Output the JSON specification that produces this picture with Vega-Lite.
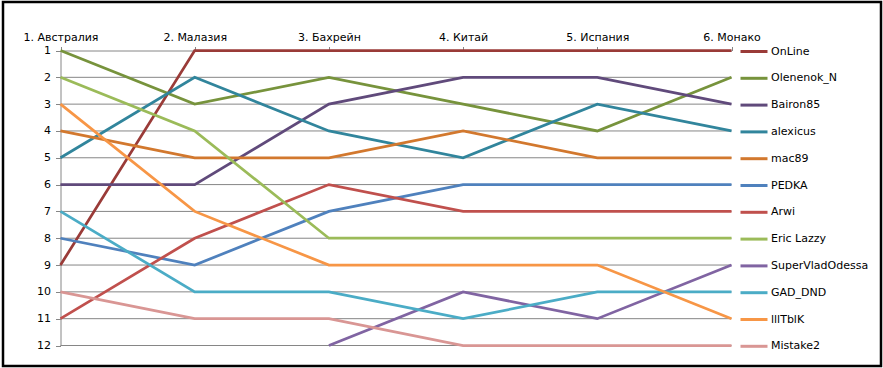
{
  "$schema": "https://vega.github.io/schema/vega-lite/v6.json",
  "width": 878,
  "height": 364,
  "autosize": {"type": "none"},
  "padding": {"left": 3, "top": 2, "right": 2, "bottom": 2},
  "config": {
    "view": {"stroke": "#000000", "strokeWidth": 2.5},
    "font": "DejaVu Sans",
    "axis": {"labelOverlap": false, "labelFlush": false}
  },
  "datasets": {
    "ranks": [
      {"player": "OnLine", "race": "1. Австралия", "rank": 9},
      {"player": "OnLine", "race": "2. Малазия", "rank": 1},
      {"player": "OnLine", "race": "3. Бахрейн", "rank": 1},
      {"player": "OnLine", "race": "4. Китай", "rank": 1},
      {"player": "OnLine", "race": "5. Испания", "rank": 1},
      {"player": "OnLine", "race": "6. Монако", "rank": 1},
      {"player": "Olenenok_N", "race": "1. Австралия", "rank": 1},
      {"player": "Olenenok_N", "race": "2. Малазия", "rank": 3},
      {"player": "Olenenok_N", "race": "3. Бахрейн", "rank": 2},
      {"player": "Olenenok_N", "race": "4. Китай", "rank": 3},
      {"player": "Olenenok_N", "race": "5. Испания", "rank": 4},
      {"player": "Olenenok_N", "race": "6. Монако", "rank": 2},
      {"player": "Bairon85", "race": "1. Австралия", "rank": 6},
      {"player": "Bairon85", "race": "2. Малазия", "rank": 6},
      {"player": "Bairon85", "race": "3. Бахрейн", "rank": 3},
      {"player": "Bairon85", "race": "4. Китай", "rank": 2},
      {"player": "Bairon85", "race": "5. Испания", "rank": 2},
      {"player": "Bairon85", "race": "6. Монако", "rank": 3},
      {"player": "alexicus", "race": "1. Австралия", "rank": 5},
      {"player": "alexicus", "race": "2. Малазия", "rank": 2},
      {"player": "alexicus", "race": "3. Бахрейн", "rank": 4},
      {"player": "alexicus", "race": "4. Китай", "rank": 5},
      {"player": "alexicus", "race": "5. Испания", "rank": 3},
      {"player": "alexicus", "race": "6. Монако", "rank": 4},
      {"player": "mac89", "race": "1. Австралия", "rank": 4},
      {"player": "mac89", "race": "2. Малазия", "rank": 5},
      {"player": "mac89", "race": "3. Бахрейн", "rank": 5},
      {"player": "mac89", "race": "4. Китай", "rank": 4},
      {"player": "mac89", "race": "5. Испания", "rank": 5},
      {"player": "mac89", "race": "6. Монако", "rank": 5},
      {"player": "PEDKA", "race": "1. Австралия", "rank": 8},
      {"player": "PEDKA", "race": "2. Малазия", "rank": 9},
      {"player": "PEDKA", "race": "3. Бахрейн", "rank": 7},
      {"player": "PEDKA", "race": "4. Китай", "rank": 6},
      {"player": "PEDKA", "race": "5. Испания", "rank": 6},
      {"player": "PEDKA", "race": "6. Монако", "rank": 6},
      {"player": "Arwi", "race": "1. Австралия", "rank": 11},
      {"player": "Arwi", "race": "2. Малазия", "rank": 8},
      {"player": "Arwi", "race": "3. Бахрейн", "rank": 6},
      {"player": "Arwi", "race": "4. Китай", "rank": 7},
      {"player": "Arwi", "race": "5. Испания", "rank": 7},
      {"player": "Arwi", "race": "6. Монако", "rank": 7},
      {"player": "Eric Lazzy", "race": "1. Австралия", "rank": 2},
      {"player": "Eric Lazzy", "race": "2. Малазия", "rank": 4},
      {"player": "Eric Lazzy", "race": "3. Бахрейн", "rank": 8},
      {"player": "Eric Lazzy", "race": "4. Китай", "rank": 8},
      {"player": "Eric Lazzy", "race": "5. Испания", "rank": 8},
      {"player": "Eric Lazzy", "race": "6. Монако", "rank": 8},
      {"player": "SuperVladOdessa", "race": "3. Бахрейн", "rank": 12},
      {"player": "SuperVladOdessa", "race": "4. Китай", "rank": 10},
      {"player": "SuperVladOdessa", "race": "5. Испания", "rank": 11},
      {"player": "SuperVladOdessa", "race": "6. Монако", "rank": 9},
      {"player": "GAD_DND", "race": "1. Австралия", "rank": 7},
      {"player": "GAD_DND", "race": "2. Малазия", "rank": 10},
      {"player": "GAD_DND", "race": "3. Бахрейн", "rank": 10},
      {"player": "GAD_DND", "race": "4. Китай", "rank": 11},
      {"player": "GAD_DND", "race": "5. Испания", "rank": 10},
      {"player": "GAD_DND", "race": "6. Монако", "rank": 10},
      {"player": "lllTblK", "race": "1. Австралия", "rank": 3},
      {"player": "lllTblK", "race": "2. Малазия", "rank": 7},
      {"player": "lllTblK", "race": "3. Бахрейн", "rank": 9},
      {"player": "lllTblK", "race": "4. Китай", "rank": 9},
      {"player": "lllTblK", "race": "5. Испания", "rank": 9},
      {"player": "lllTblK", "race": "6. Монако", "rank": 11},
      {"player": "Mistake2", "race": "1. Австралия", "rank": 10},
      {"player": "Mistake2", "race": "2. Малазия", "rank": 11},
      {"player": "Mistake2", "race": "3. Бахрейн", "rank": 11},
      {"player": "Mistake2", "race": "4. Китай", "rank": 12},
      {"player": "Mistake2", "race": "5. Испания", "rank": 12},
      {"player": "Mistake2", "race": "6. Монако", "rank": 12}
    ],
    "grid": [
      {"r": 2}, {"r": 3}, {"r": 4}, {"r": 5}, {"r": 6}, {"r": 7},
      {"r": 8}, {"r": 9}, {"r": 10}, {"r": 11}, {"r": 12}
    ]
  },
  "encoding": {
    "x": {
      "field": "race",
      "type": "ordinal",
      "scale": {
        "type": "point",
        "domain": ["1. Австралия", "2. Малазия", "3. Бахрейн", "4. Китай", "5. Испания", "6. Монако"],
        "range": [57.5, 728.5],
        "padding": 0
      },
      "axis": {
        "orient": "top",
        "offset": -48.5,
        "title": null,
        "labelAngle": 0,
        "labelAlign": "center",
        "labelBaseline": "bottom",
        "labelFontSize": 11,
        "labelColor": "#000000",
        "labelPadding": 4,
        "labelOverlap": false,
        "labelBound": false,
        "tickSize": 4,
        "tickColor": "#868686",
        "domainColor": "#868686",
        "grid": false
      }
    },
    "y": {
      "field": "rank",
      "type": "quantitative",
      "scale": {"domain": [1, 12], "range": [48.5, 343.5], "nice": false, "zero": false},
      "axis": {
        "orient": "left",
        "offset": -57.5,
        "title": null,
        "values": [1, 2, 3, 4, 5, 6, 7, 8, 9, 10, 11, 12],
        "format": "d",
        "labelFontSize": 11,
        "labelColor": "#000000",
        "labelPadding": 5,
        "labelOverlap": false,
        "labelBound": false,
        "tickSize": 5,
        "tickColor": "#868686",
        "domainColor": "#868686",
        "grid": false
      }
    }
  },
  "layer": [
    {
      "data": {"name": "grid"},
      "mark": {"type": "rule", "color": "#868686", "strokeWidth": 1},
      "encoding": {
        "y": {"field": "r", "type": "quantitative"},
        "x": {"datum": "1. Австралия", "type": "ordinal"},
        "x2": {"datum": "6. Монако"}
      }
    },
    {
      "data": {"name": "ranks"},
      "mark": {"type": "line", "strokeWidth": 2.75, "strokeCap": "butt", "strokeJoin": "miter"},
      "encoding": {
        "color": {
          "field": "player",
          "type": "nominal",
          "scale": {
            "domain": ["OnLine", "Olenenok_N", "Bairon85", "alexicus", "mac89", "PEDKA", "Arwi", "Eric Lazzy", "SuperVladOdessa", "GAD_DND", "lllTblK", "Mistake2"],
            "range": ["#9A3B38", "#77933C", "#604A7B", "#31859C", "#D2782E", "#4F81BD", "#C0504D", "#9BBB59", "#8064A2", "#4BACC6", "#F79646", "#D99694"]
          },
          "legend": {
            "orient": "none",
            "legendX": 736,
            "legendY": 34.5,
            "title": null,
            "symbolType": "stroke",
            "symbolSize": 729,
            "symbolStrokeWidth": 3,
            "labelFontSize": 11,
            "labelColor": "#000000",
            "labelOffset": 2,
            "rowPadding": 5.8,
            "padding": 0
          }
        }
      }
    }
  ]
}
